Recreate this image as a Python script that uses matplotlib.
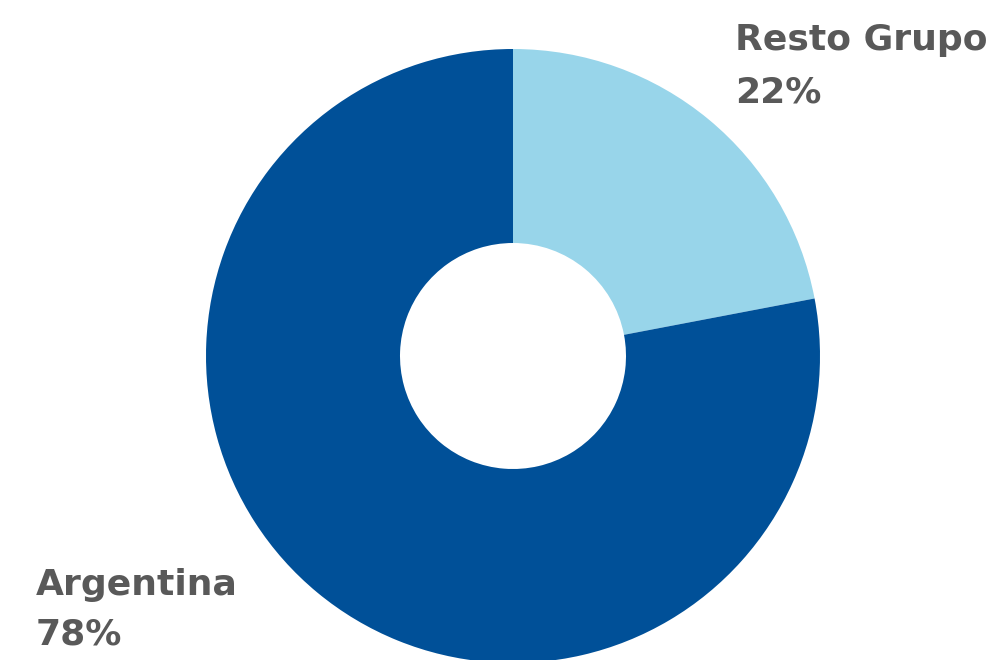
import matplotlib
matplotlib.use("Agg")
import matplotlib.pyplot as plt

categories = ["Resto Grupo", "Argentina"]
values = [22, 78]
colors = ["#98D5EA", "#005098"]

W, H = 995, 660
fig = plt.figure(figsize=(W / 100, H / 100), dpi=100)
ax = fig.add_axes([0, 0, 1, 1])

cx, cy = 513, H - 356
R = 307
r_in = 113
ax.pie(values, colors=colors, startangle=90, counterclock=False,
       center=(cx, cy), radius=R, frame=True,
       wedgeprops=dict(width=R - r_in, linewidth=0))
ax.set_xlim(0, W)
ax.set_ylim(0, H)
ax.set_aspect("equal")
ax.axis("off")

font = dict(family=["DejaVu Sans"], fontweight="bold", fontsize=26, color="#595959")
ax.text(735, H - 50, categories[0], va="baseline", ha="left", **font)
ax.text(735, H - 102, f"{values[0]}%", va="baseline", ha="left", **font)
ax.text(36, H - 595, categories[1], va="baseline", ha="left", **font)
ax.text(36, H - 645, f"{values[1]}%", va="baseline", ha="left", **font)

fig.savefig("out.png", dpi=100)
